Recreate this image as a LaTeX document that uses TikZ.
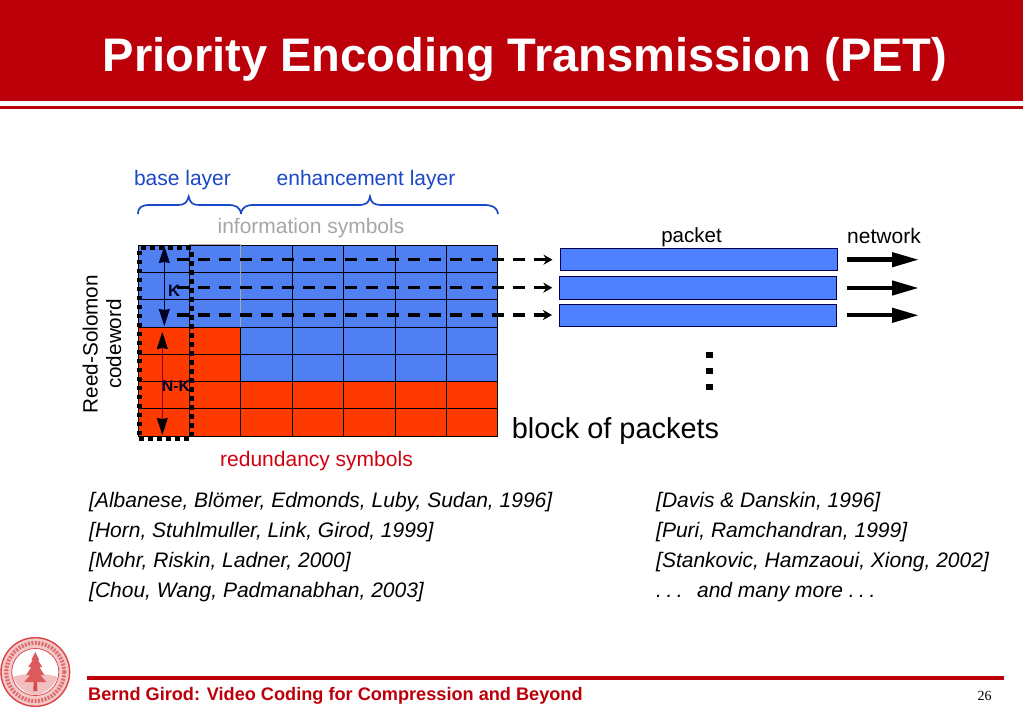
\documentclass[tikz,border=0pt]{standalone}
\usepackage{fontspec}
\setmainfont{Liberation Sans}
\newfontfamily\serifnum{Liberation Serif}
\usetikzlibrary{arrows.meta}
\definecolor{hdr}{HTML}{BB0009}
\definecolor{cblue}{HTML}{4F7FF0}
\definecolor{pblue}{HTML}{4F80FF}
\definecolor{cred}{HTML}{FF3A00}
\definecolor{lblue}{HTML}{1A48C8}
\definecolor{lred}{HTML}{D00010}
\definecolor{seal}{HTML}{D8484A}
\tikzset{
 x=1pt,y=-1pt,
 cellb/.style={draw=black,line width=0.9pt,fill=cblue,minimum width=51.4pt,minimum height=27.3pt,inner sep=0pt,anchor=north west},
 cellr/.style={cellb,fill=cred},
 txt/.style={inner sep=0pt,anchor=base},
 lbl/.style={txt,font=\fontsize{21}{24}\selectfont},
 cite/.style={inner sep=0pt,anchor=base west,font=\fontsize{21}{23}\selectfont\itshape},
 pkt/.style={draw=black!70!blue,line width=1pt,fill=pblue,minimum width=277pt,minimum height=22.5pt,inner sep=0pt},
 dasharrow/.style={line width=3.2pt,dash pattern=on 12pt off 9pt,-{Stealth[length=9pt,width=10pt]},shorten >=7pt},
 netarrow/.style={line width=4.4pt,-{Stealth[length=27pt,width=14pt,inset=0pt]}},
 dimarrow/.style={line width=1pt,{Stealth[length=17pt,width=11pt,inset=1pt]}-{Stealth[length=17pt,width=11pt,inset=1pt]}},
 brace/.style={draw=lblue,line width=1.7pt},
}
\begin{document}
\begin{tikzpicture}
\useasboundingbox (0,0) rectangle (1023,708);
% header
\fill[hdr] (0,0) rectangle (1023,101);
\fill[hdr] (0,106) rectangle (1023,109);
\node[txt,text=white,font=\fontsize{47.05}{50}\selectfont\bfseries] (title) at (525,72) {Priority Encoding Transmission (PET)};
% labels
\node[lbl,text=lblue] (base) at (182.5,186) {base layer};
\node[lbl,text=lblue] (enh) at (366,186) {enhancement layer};
\node[lbl,text=black!35] (info) at (311,234) {information symbols};
\node[lbl,text=lred] (red) at (316.5,466) {redundancy symbols};
% braces
\draw[brace] (138,214) .. controls (138,207) and (142,205) .. (150,205) -- (178,205) .. controls (184,205) and (187,203) .. (188.7,196.5) .. controls (190,203) and (193,205) .. (199,205) -- (228,205) .. controls (236,205) and (240,207) .. (241,214);
\draw[brace] (241,214) .. controls (242,207) and (246,205) .. (254,205) -- (358,205) .. controls (366,205) and (369,203) .. (370,196.5) .. controls (371,203) and (374,205) .. (382,205) -- (484,205) .. controls (492,205) and (497,207) .. (498,214);
% grid
\foreach \r/\y in {0/244.7,1/272,2/299.3,3/326.6,4/353.9,5/381.2,6/408.5}{
  \foreach \c/\x in {0/137.6,1/189,2/240.4,3/291.8,4/343.2,5/394.6,6/446}{
    \pgfmathtruncatemacro{\isred}{(\r>=5 || (\r>=3 && \c<=1)) ? 1 : 0}
    \ifnum\isred=1
      \node[cellr] (c\r\c) at (\x,\y) {};
    \else
      \node[cellb] (c\r\c) at (\x,\y) {};
    \fi
  }
}
\draw[black!35,line width=1pt] (189,244.7) -- (240.4,244.7) -- (240.4,326.6);
% dotted box
\node[draw=black,line width=4.2pt,dash pattern=on 4.5pt off 4.5pt,minimum width=52pt,minimum height=190.5pt,inner sep=0pt,anchor=north west] (word) at (137.3,246) {};
% K arrows
\coordinate (kt) at (164.3,246);
\coordinate (kb) at (164.3,326);
\coordinate (nt) at (162.3,332);
\coordinate (nb) at (162.3,435);
\draw[dimarrow,draw=black!85!blue] (kt) -- (kb);
\draw[dimarrow,draw=black] (nt) -- (nb);
\draw[draw=purple!70!black,line width=1pt] (162.3,347) -- (162.3,419);
\node[txt,font=\fontsize{16.5}{18}\selectfont\bfseries,text=black!85!blue] (k) at (174,297) {K};
\node[txt,font=\fontsize{15.5}{17}\selectfont\bfseries,text=black!85!blue] (nk) at (176,391.5) {N-K};
% side label
\node[rotate=90,align=center,inner sep=0pt,font=\fontsize{20.7}{23.5}\selectfont] (rs) at (102,344) {Reed-Solomon\\codeword};
% packets
\node[pkt] (p1) at (698.5,259.7) {};
\node[pkt] (p2) at (698.3,288) {};
\node[pkt] (p3) at (698,315.3) {};
% dashed connectors
\coordinate (d1) at (176.5,259.7);
\coordinate (d2) at (176.5,287.7);
\coordinate (d3) at (176.5,315);
\draw[dasharrow] (d1) -- (p1.west);
\draw[dasharrow] (d2) -- (d2 -| p2.west);
\draw[dasharrow] (d3) -- (d3 -| p3.west);
% network arrows
\coordinate (n1a) at (847,259.7); \coordinate (n1b) at (919,259.7);
\coordinate (n2a) at (847,288); \coordinate (n2b) at (919,288);
\coordinate (n3a) at (847,315.3); \coordinate (n3b) at (919,315.3);
\draw[netarrow] (n1a) -- (n1b);
\draw[netarrow] (n2a) -- (n2b);
\draw[netarrow] (n3a) -- (n3b);
\node[txt,font=\fontsize{20.5}{22}\selectfont] (pl) at (691.5,242.5) {packet};
\node[lbl] (nl) at (884,243.5) {network};
% dots
\foreach \y in {355,371,387} \fill (706,\y-3) rectangle (712.5,\y+3.3);
\node[txt,font=\fontsize{28.9}{30}\selectfont] (blk) at (615.5,438.5) {block of packets};
% citations
\node[cite] (a1) at (89,507.5) {[Albanese, Blömer, Edmonds, Luby, Sudan, 1996]};
\node[cite] (a2) at (89,537.5) {[Horn, Stuhlmuller, Link, Girod, 1999]};
\node[cite] (a3) at (89,567.5) {[Mohr, Riskin, Ladner, 2000]};
\node[cite] (a4) at (89,597.5) {[Chou, Wang, Padmanabhan, 2003]};
\node[cite] (b1) at (656,507.5) {[Davis \& Danskin, 1996]};
\node[cite] (b2) at (656,537.5) {[Puri, Ramchandran, 1999]};
\node[cite] (b3) at (656,567.5) {[Stankovic, Hamzaoui, Xiong, 2002]};
\node[cite] (b4) at (656,597.5) {.\hspace{4.5pt}.\hspace{4.5pt}.\hspace{14.4pt}and many more .\hspace{4.5pt}.\hspace{4.5pt}.};
% footer
\fill[hdr] (87,675.5) rectangle (1004,679.5);
\node[inner sep=0pt,anchor=base west,text=hdr,font=\fontsize{18.15}{20}\selectfont\bfseries] (foot) at (88,700) {Bernd Girod: Video Coding for Compression and Beyond};
\node[txt,font=\fontsize{14}{16}\selectfont\serifnum] (num) at (984.5,700) {26};
% seal
\begin{scope}[shift={(35.3,672)}]
\fill[seal!30] (0,0) circle (35);
\draw[seal,line width=1.4pt] (0,0) circle (34.3);
\draw[seal,line width=0.9pt] (0,0) circle (23.5);
\draw[seal!80,line width=4pt,dash pattern=on 2pt off 1.4pt] (0,0) circle (29);
\fill[white] (0,0) circle (23);
\fill[seal!35] (-22.5,5) .. controls (-12,1) and (12,1) .. (22.5,5) .. controls (18,16) and (8,22.5) .. (0,23) .. controls (-8,22.5) and (-18,16) .. (-22.5,5) -- cycle;
\fill[seal] (-2,19) -- (2,19) -- (1,-5) -- (-1,-5) -- cycle;
\fill[seal!90] (0,-20) -- (4,-12) -- (2.5,-12) -- (7,-5) -- (4,-5) -- (9,3) -- (5,3) -- (11,10) -- (-11,10) -- (-5,3) -- (-9,3) -- (-4,-5) -- (-7,-5) -- (-2.5,-12) -- (-4,-12) -- cycle;
\end{scope}
\end{tikzpicture}
\end{document}
